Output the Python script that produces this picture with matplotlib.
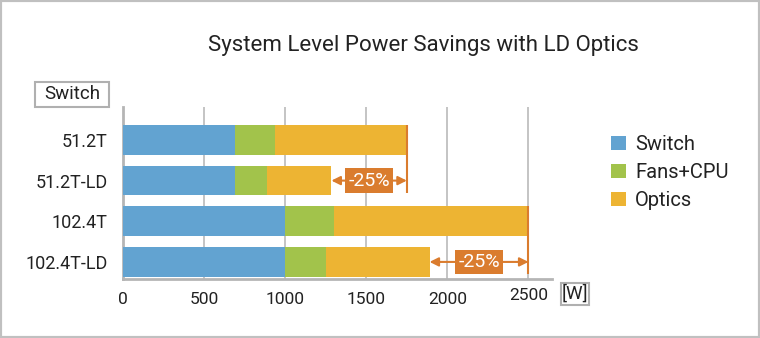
import numpy as np
import matplotlib
matplotlib.use('Agg')
import matplotlib.pyplot as plt
from matplotlib.patches import Rectangle
from matplotlib.transforms import ScaledTranslation

plt.rcParams['font.family'] = ['Roboto', 'DejaVu Sans']

# Data (W)
systems = ['51.2T', '51.2T-LD', '102.4T', '102.4T-LD']
series_names = ['Switch', 'Fans+CPU', 'Optics']
switch_w = [690, 690, 1000, 1000]
fans_w = [250, 200, 300, 250]
optics_w = [810, 395, 1200, 640]
x_ticks = [0, 500, 1000, 1500, 2000, 2500]
# savings annotations: (baseline row, LD row, label)
savings_pairs = [(0, 1), (2, 3)]
savings_labels = ['-25%', '-25%']

COLORS = ['#62a3d1', '#a2c34b', '#edb433']
ACCENT = '#da7c2e'
GRID = '#c4c4c4'
TEXT = '#222222'

W, H = 760, 338
fig = plt.figure(figsize=(W / 100, H / 100), dpi=100)
ax = fig.add_axes([123 / W, 1 - 279 / H, (552 - 123) / W, (279 - 107) / H])

y = np.arange(len(systems))
stacks = [np.array(switch_w), np.array(fans_w), np.array(optics_w)]
left = np.zeros(len(systems))
handles = []
for vals, col, name in zip(stacks, COLORS, series_names):
    h = ax.barh(y, vals, left=left, height=0.73, color=col, label=name, zorder=3)
    handles.append(h)
    left = left + vals
totals = left

ax.set_xlim(0, 2645)
ax.set_ylim(3.42, -0.81)
ax.set_yticks(y)
ax.set_yticklabels(systems, fontsize=13, color=TEXT)
ax.set_xticks(x_ticks)
ax.set_xticklabels([str(t) for t in x_ticks], fontsize=12.5, color=TEXT)
ax.tick_params(axis='y', length=0, pad=11)
ax.tick_params(axis='x', length=0, pad=9)
# last tick label sits a bit higher in the original
lbl = ax.get_xticklabels()[-1]
lbl.set_transform(lbl.get_transform() + ScaledTranslation(0, 3 / 100, fig.dpi_scale_trans))

for xv in x_ticks[1:]:
    ax.axvline(xv, color=GRID, lw=1.4, zorder=1)
for s in ['top', 'right']:
    ax.spines[s].set_visible(False)
for s in ['left', 'bottom']:
    ax.spines[s].set_color('#b5b5b5')
    ax.spines[s].set_linewidth(2)

# savings arrows
for (base, ld), txt in zip(savings_pairs, savings_labels):
    x0, x1 = totals[ld], totals[base]
    ax.vlines(x1, base - 0.365, ld + 0.3, color=ACCENT, lw=1.5, zorder=4)
    ax.annotate('', xy=(x0, ld), xytext=(x1, ld),
                arrowprops=dict(arrowstyle='<|-|>', color=ACCENT, lw=1.5,
                                mutation_scale=13, shrinkA=0, shrinkB=0), zorder=4)
    ax.text((x0 + x1) / 2, ld, txt, ha='center', va='center', fontsize=14,
            color='white', zorder=5,
            bbox=dict(boxstyle='square,pad=0.16', fc=ACCENT, ec='none'))

ax.legend(handles=handles, loc='upper left', bbox_to_anchor=(611 / W, 1 - 135 / H),
          bbox_transform=fig.transFigure, frameon=False, fontsize=14.5,
          handlelength=0.75, handleheight=0.75, handletextpad=0.45,
          labelspacing=0.45, borderpad=0, borderaxespad=0, labelcolor=TEXT)

fig.text(423 / W, 1 - 46 / H, 'System Level Power Savings with LD Optics',
         ha='center', va='center', fontsize=16, color=TEXT)

# boxed labels
fig.patches.append(Rectangle((35 / W, 1 - 107 / H), 74 / W, 25 / H, transform=fig.transFigure,
                             fill=False, ec='#b0b0b0', lw=1.5))
fig.text(72 / W, 1 - 94.5 / H, 'Switch', ha='center', va='center', fontsize=13.5, color=TEXT)
fig.patches.append(Rectangle((561 / W, 1 - 305 / H), 28 / W, 22 / H, transform=fig.transFigure,
                             fill=False, ec='#b0b0b0', lw=1.5))
fig.text(575 / W, 1 - 294 / H, '[W]', ha='center', va='center', fontsize=13.5, color=TEXT)

# outer frame
fig.patches.append(Rectangle((0, 0), 1, 1, transform=fig.transFigure,
                             fill=False, ec='#c0c0c0', lw=3))

fig.savefig('out.png', dpi=100)
